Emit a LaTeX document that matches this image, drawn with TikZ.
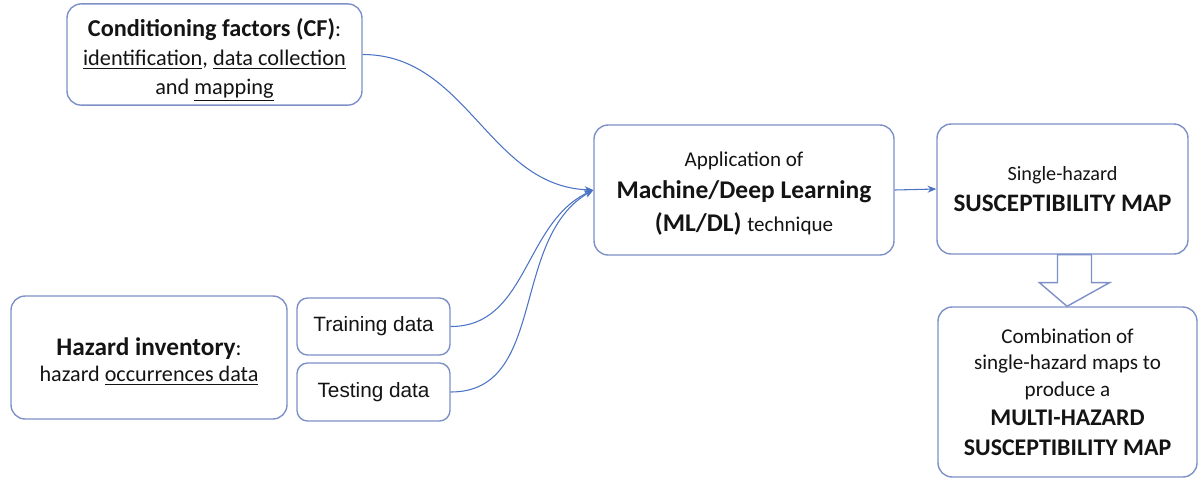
\documentclass[tikz,border=0pt]{standalone}
\usepackage{fontspec}
\setmainfont{Carlito}
\newfontfamily\arialfont{Liberation Sans}
\usepackage{xcolor}
\definecolor{hzframe}{RGB}{125,145,200}
\definecolor{hzlink}{RGB}{75,115,195}
\definecolor{hztext}{RGB}{20,20,20}
\usetikzlibrary{arrows.meta, positioning, calc}

\begin{document}
\begin{tikzpicture}[x=0.02cm, y=-0.02cm,
    hzbox/.style={draw=hzframe, fill=white, rounded corners=8pt, line width=0.8pt,
                  align=center, text=hztext, inner sep=2pt},
    databox/.style={hzbox, rounded corners=6pt, font=\arialfont\fontsize{11.8}{13}\selectfont},
    hzlinkline/.style={draw=hzlink, line width=0.6pt, -{Stealth[length=5pt, width=4pt]}}]
      \useasboundingbox (0,0) rectangle (1199,478);

      % Conditioning factors box
      \node[hzbox, minimum width=5.9cm, minimum height=1.98cm,
            font=\fontsize{12.7}{16.5}\selectfont] (cf) at (214.5,54.5)
           {\rule{0pt}{16.4pt}{\fontsize{13.8}{16.5}\selectfont\bfseries Conditioning factors (CF)}:\\
            \underline{identification}, \underline{data collection}\\
            and \underline{mapping}};

      % Hazard inventory + training/testing split
      \node[hzbox, minimum width=5.52cm, minimum height=2.46cm,
            font=\fontsize{12.6}{15.3}\selectfont] (inventory) at (149,357.5)
           {\rule{0pt}{14.6pt}{\fontsize{14.4}{15.3}\selectfont\bfseries Hazard inventory}:\\
            hazard \underline{occurrences data}};
      \node[databox, minimum width=3.06cm, minimum height=1.14cm] (train) at (373.5,326.5) {Training data};
      \node[databox, minimum width=3.06cm, minimum height=1.16cm] (test) at (373.5,392) {Testing data};

      % ML/DL technique
      \node[hzbox, minimum width=6cm, minimum height=2.6cm,
            font=\fontsize{14.5}{18.5}\selectfont] (mldl) at (744,190)
           {\rule{0pt}{12.4pt}{\fontsize{12}{18.5}\selectfont Application of}\\
            \textbf{Machine/Deep Learning}\\
            \textbf{(ML/DL)} {\fontsize{12}{18.5}\selectfont technique}};

      % Single-hazard map
      \node[hzbox, minimum width=5.02cm, minimum height=2.6cm,
            font=\fontsize{14.3}{18}\selectfont] (single) at (1062.5,189)
           {{\fontsize{11.5}{18}\selectfont Single-hazard}\\
            \textbf{SUSCEPTIBILITY MAP}};

      % Multi-hazard map
      \node[hzbox, minimum width=5.18cm, minimum height=3.4cm,
            font=\fontsize{12}{15.3}\selectfont] (multi) at (1067.5,392)
           {Combination of\\
            single-hazard maps to\\
            produce a\\[1.2pt]
            {\fontsize{13.6}{17}\selectfont\bfseries MULTI-HAZARD}\\[1.5pt]
            {\fontsize{13.6}{17}\selectfont\bfseries SUSCEPTIBILITY MAP}};

      % connectors
      \draw[hzlinkline] (cf.east) to[out=0, in=178] (mldl.west);
      \draw[hzlinkline] (train.east) to[out=0, in=205] (mldl.west);
      \draw[hzlinkline] (test.east) to[out=0, in=210] (mldl.west);
      \draw[hzlinkline] (mldl.east) -- (single.west);

      % block arrow single -> multi
      \draw[hzframe, line width=0.8pt, fill=white]
           ($(single.south)+(-5,0)$) -- ++(0,28) -- ++(-18,0) -- ($(multi.north)+(-0.5,0)$)
           -- ($(single.south)+(47,28)$) -- ++(-18,0) -- ++(0,-28) -- cycle;
\end{tikzpicture}
\end{document}
